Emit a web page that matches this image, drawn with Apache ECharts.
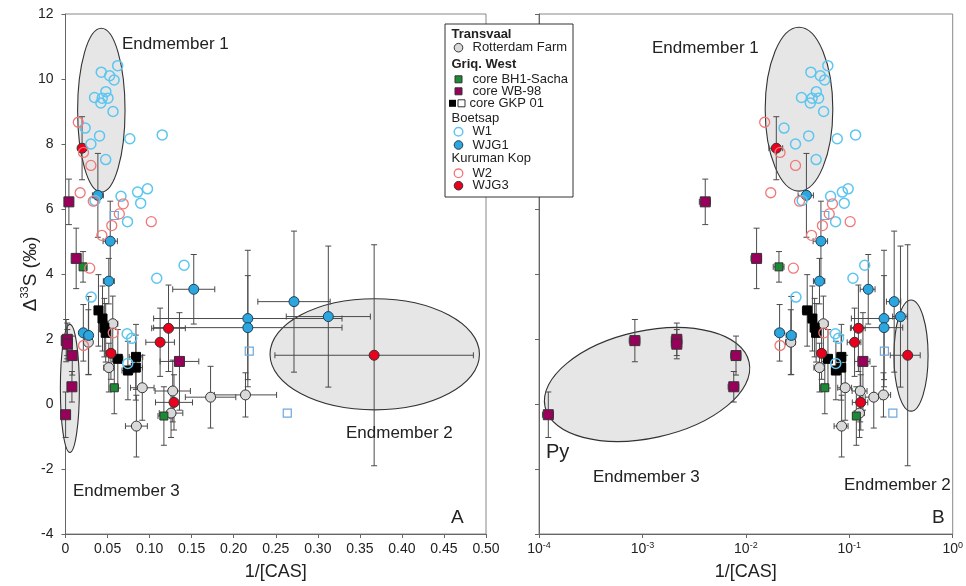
<!DOCTYPE html>
<html>
<head>
<meta charset="utf-8">
<script src="https://cdn.jsdelivr.net/npm/echarts@6/dist/echarts.min.js"></script>
<style>
    html, body { margin: 0; background: #fff; }
    #chart { width: 966px; height: 586px; }
</style>
</head>
<body>
<div id="chart"></div>
<script>
    // rows: [1/[CAS], D33S, x error, y error]
    const rotterdamFarm = [
        [0.0562, 2.47, 0.006, 0.85], [0.0272, 1.90, 0.003, 1.0], [0.0515, 1.12, 0.006, 0.75],
        [0.0913, 0.50, 0.014, 1.0], [0.1275, 0.40, 0.021, 0.95], [0.1725, 0.21, 0.030, 0.95],
        [0.2140, 0.28, 0.037, 0.68], [0.1255, -0.28, 0.014, 0.75], [0.0843, -0.68, 0.013, 0.95]
    ]
    const bh1Sacha = [
        [0.0209, 4.22, 0.0025, 0.47], [0.0580, 0.50, 0.005, 0.8], [0.1170, -0.37, 0.007, 0.9]
    ]
    const wb98 = [
        [0.00405, 6.22, 0.0005, 0.7], [0.0127, 4.48, 0.0015, 0.93], [0.000845, 1.95, 0.0001, 0.65],
        [0.00215, 1.99, 0.00025, 0.5], [0.00215, 1.84, 0.00025, 0.45], [0.00803, 1.49, 0.0009, 0.6],
        [0.00764, 0.53, 0.0009, 0.47], [0.000123, -0.33, 0.000015, 0.7], [0.1355, 1.31, 0.023, 1.5]
    ]
    const gkpFilled = [
        [0.0392, 2.88, 0.004, 1.1], [0.0440, 2.63, 0.004, 1.0], [0.0462, 2.35, 0.004, 0.9],
        [0.0478, 2.19, 0.004, 0.9], [0.0622, 1.39, 0.006, 0.9], [0.0838, 1.45, 0.008, 1.0],
        [0.0836, 1.12, 0.008, 1.0], [0.0742, 1.03, 0.007, 0.9]
    ]
    const gkpOpen = [[0.058, 5.80], [0.2185, 1.63], [0.2637, -0.28]]
    const w1 = [
        [0.062, 10.41], [0.0425, 10.21], [0.0525, 10.10], [0.0578, 9.97], [0.048, 9.61],
        [0.0345, 9.43], [0.0437, 9.41], [0.0505, 9.41], [0.042, 9.26], [0.0565, 9.00],
        [0.0234, 8.49], [0.0405, 8.25], [0.0765, 8.16], [0.115, 8.28], [0.0302, 8.00],
        [0.0478, 7.52], [0.035, 6.26], [0.066, 6.39], [0.0857, 6.52], [0.0975, 6.62],
        [0.0894, 6.18], [0.0737, 5.61], [0.141, 4.27], [0.1085, 3.87], [0.0305, 3.29],
        [0.0733, 2.16], [0.0787, 2.02], [0.074, 1.25]
    ]
    const wjg1 = [
        [0.0385, 6.42, 0.0065, 1.29], [0.0532, 5.01, 0.0085, 1.23], [0.0515, 3.78, 0.0065, 0.7],
        [0.1525, 3.53, 0.025, 1.07], [0.2717, 3.15, 0.043, 2.17], [0.3125, 2.69, 0.050, 2.17],
        [0.2168, 2.63, 0.112, 2.1], [0.2168, 2.35, 0.112, 1.6], [0.0212, 2.19, 0.002, 0.87],
        [0.0275, 2.11, 0.003, 1.2]
    ]
    const w2 = [
        [0.0152, 8.67], [0.0214, 7.74], [0.0302, 7.34], [0.0174, 6.50], [0.033, 6.24],
        [0.0687, 6.16], [0.064, 5.85], [0.055, 5.49], [0.102, 5.61], [0.0432, 5.19],
        [0.0288, 4.18], [0.0568, 2.19], [0.0214, 1.80]
    ]
    const wjg3 = [
        [0.0197, 7.87, 0.003, 0.97], [0.1225, 2.33, 0.020, 1.33], [0.1125, 1.90, 0.017, 1.05],
        [0.0540, 1.56, 0.005, 0.8], [0.1290, 0.05, 0.022, 0.85], [0.3670, 1.50, 0.118, 3.4]
    ]
    // ellipses: [x from, x to, y centre, y half height, rotation deg]
    const ellipsesA = [
        [0.0144, 0.0708, 9.04, 2.52, 0], [0.2432, 0.4922, 1.53, 1.71, 0], [-0.0061, 0.0165, 0.48, 1.97, 0]
    ]
    const ellipsesB = [
        [0.01538, 0.0693, 9.07, 2.52, 0], [0.2704, 0.578, 1.49, 1.71, 0], [0.0001084, 0.01135, 0.6, 1.65, 12.4]
    ]
    const yTicks = [-4, 12, 2]
    const xTicksA = [0, 0.5, 0.05]
    const xTicksB = [0.0001, 1]

    const font = 'Liberation Sans, Arial, sans-serif'
    const errColor = '#4a4a4a'

    function errorItem(params, api) {
        let x = api.value(0), y = api.value(1), xe = api.value(2), ye = api.value(3)
        let cap = 3
        let st = {stroke: errColor, lineWidth: 1}
        let kids = []
        if (ye > 0) {
            let t = api.coord([x, y + ye]), b = api.coord([x, y - ye])
            kids.push({type: 'line', shape: {x1: t[0], y1: t[1], x2: b[0], y2: b[1]}, style: st})
            kids.push({type: 'line', shape: {x1: t[0] - cap, y1: t[1], x2: t[0] + cap, y2: t[1]}, style: st})
            kids.push({type: 'line', shape: {x1: b[0] - cap, y1: b[1], x2: b[0] + cap, y2: b[1]}, style: st})
        }
        if (xe > 0) {
            let l = api.coord([x - xe, y]), r = api.coord([x + xe, y])
            kids.push({type: 'line', shape: {x1: l[0], y1: l[1], x2: r[0], y2: r[1]}, style: st})
            kids.push({type: 'line', shape: {x1: l[0], y1: l[1] - cap, x2: l[0], y2: l[1] + cap}, style: st})
            kids.push({type: 'line', shape: {x1: r[0], y1: r[1] - cap, x2: r[0], y2: r[1] + cap}, style: st})
        }
        return {type: 'group', children: kids}
    }

    function ellipseItem(params, api) {
        let a = api.coord([api.value(0), api.value(2)])
        let b = api.coord([api.value(1), api.value(2)])
        let t = api.coord([api.value(0), api.value(2) + api.value(3)])
        let cx = (a[0] + b[0]) / 2, cy = a[1]
        return {
            type: 'ellipse',
            shape: {cx: 0, cy: 0, rx: Math.abs(b[0] - a[0]) / 2, ry: Math.abs(a[1] - t[1])},
            x: cx, y: cy,
            rotation: api.value(4) * Math.PI / 180,
            style: {fill: '#e6e6e6', stroke: '#333', lineWidth: 1.1}
        }
    }

    let groups = [
        {data: rotterdamFarm, err: true, symbol: 'circle', size: 10, color: '#d9d9d9', border: '#333', bw: 1, z: 3},
        {data: bh1Sacha, err: true, symbol: 'rect', size: 8, color: '#1b8a35', border: '#333', bw: 1, z: 3},
        {data: wb98, err: true, symbol: 'rect', size: 10, color: '#99005c', border: '#333', bw: 1, z: 3},
        {data: gkpFilled, err: true, symbol: 'rect', size: 9, color: '#000', border: '#000', bw: 1, z: 3},
        {data: wjg1, err: true, symbol: 'circle', size: 10, color: '#2ca6de', border: '#1f3f55', bw: 1, z: 4},
        {data: wjg3, err: true, symbol: 'circle', size: 10, color: '#e8001c', border: '#333', bw: 1, z: 4},
        {data: gkpOpen, err: false, symbol: 'rect', size: 8, color: 'rgba(0,0,0,0)', border: '#6fa8dc', bw: 1.2, z: 5},
        {data: w1, err: false, symbol: 'circle', size: 10, color: 'rgba(0,0,0,0)', border: '#5cc6f0', bw: 1.5, z: 5},
        {data: w2, err: false, symbol: 'circle', size: 10, color: 'rgba(0,0,0,0)', border: '#f07878', bw: 1.3, z: 5}
    ]

    let series = []
    ;[ellipsesA, ellipsesB].forEach(function (ell, p) {
        series.push({
            type: 'custom', xAxisIndex: p, yAxisIndex: p, clip: false, z: 1,
            renderItem: ellipseItem, encode: {x: [0, 1], y: 2}, data: ell, silent: true
        })
        groups.forEach(function (g) {
            if (g.err) {
                series.push({
                    type: 'custom', xAxisIndex: p, yAxisIndex: p, clip: false, z: 2,
                    renderItem: errorItem, encode: {x: 0, y: 1}, data: g.data, silent: true
                })
            }
            series.push({
                type: 'scatter', xAxisIndex: p, yAxisIndex: p, z: g.z,
                symbol: g.symbol, symbolSize: g.size,
                itemStyle: {color: g.color, borderColor: g.border, borderWidth: g.bw, opacity: 1},
                data: g.data.map(function (r) { return [r[0], r[1]] })
            })
        })
    })

    let axisLineStyle = {lineStyle: {color: '#666', width: 1}}
    let tickStyle = {show: true, inside: false, length: 4, lineStyle: {color: '#666'}}
    let labelBase = {color: '#222', fontSize: 14, fontFamily: font}

    let yAxisCommon = {
        type: 'value', min: yTicks[0], max: yTicks[1], interval: yTicks[2],
        axisLine: {show: true, ...axisLineStyle}, axisTick: tickStyle, splitLine: {show: false}
    }

    let option = {
        animation: false,
        grid: [
            {left: 65.5, right: 480, top: 14, bottom: 51, show: true, borderColor: '#888', borderWidth: 1},
            {left: 539, right: 7, top: 14, bottom: 51, show: true, borderColor: '#888', borderWidth: 1}
        ],
        xAxis: [
            {
                gridIndex: 0, type: 'value', min: xTicksA[0], max: xTicksA[1], interval: xTicksA[2],
                axisLine: {show: true, onZero: false, ...axisLineStyle}, axisTick: tickStyle, splitLine: {show: false},
                axisLabel: {...labelBase, margin: 8, formatter: function (v) { return v === 0 ? '0' : v.toFixed(2) }},
                name: '1/[CAS]', nameLocation: 'middle', nameGap: 29, nameMoveOverlap: false,
                nameTextStyle: {color: '#222', fontSize: 18, fontFamily: font}
            },
            {
                gridIndex: 1, type: 'log', logBase: 10, min: xTicksB[0], max: xTicksB[1],
                axisLine: {show: true, onZero: false, ...axisLineStyle}, axisTick: tickStyle, splitLine: {show: false},
                minorTick: {show: false},
                axisLabel: {
                    ...labelBase, margin: 7, lineHeight: 16,
                    formatter: function (v) { return '10{sup|' + Math.round(Math.log10(v)) + '}' },
                    rich: {sup: {fontSize: 9, verticalAlign: 'top', lineHeight: 10, color: '#222', fontFamily: font}}
                },
                name: '1/[CAS]', nameLocation: 'middle', nameGap: 29, nameMoveOverlap: false,
                nameTextStyle: {color: '#222', fontSize: 18, fontFamily: font}
            }
        ],
        yAxis: [
            {
                gridIndex: 0, ...yAxisCommon,
                axisLabel: {...labelBase, margin: 12},
                name: 'Δ{sup|33}S (‰)', nameLocation: 'middle', nameGap: 24, nameRotate: 90, nameMoveOverlap: false,
                nameTextStyle: {
                    color: '#222', fontSize: 19, fontFamily: font, lineHeight: 22,
                    rich: {sup: {fontSize: 11, verticalAlign: 'top', lineHeight: 11, color: '#222', fontFamily: font}}
                }
            },
            {gridIndex: 1, ...yAxisCommon, axisLabel: {show: false}}
        ],
        series: series,
        graphic: []
    }

    // annotations
    let notes = [
        ['Endmember 1', 122, 44, 17], ['Endmember 2', 346, 433, 17], ['Endmember 3', 73, 491, 17], ['A', 451, 518, 19],
        ['Endmember 1', 652, 48, 17], ['Endmember 3', 593, 477, 17], ['Endmember 2', 844, 485, 17], ['Py', 546, 452, 20],
        ['B', 932, 518, 19]
    ]
    notes.forEach(function (n) {
        option.graphic.push({
            type: 'text', x: n[1], y: n[2], z: 20,
            style: {text: n[0], fill: '#222', font: n[3] + 'px ' + font, verticalAlign: 'middle'}
        })
    })

    // legend box
    let lg = {x: 445, y: 24, w: 128, h: 173}
    let legendRows = [
        {text: 'Transvaal', y: 34, bold: true},
        {text: 'Rotterdam Farm', y: 47.7, g: 0},
        {text: 'Griq. West', y: 64, bold: true},
        {text: 'core BH1-Sacha', y: 79.3, g: 1},
        {text: 'core WB-98', y: 91.3, g: 2},
        {text: 'core GKP 01', y: 103.3, g: 3},
        {text: 'Boetsap', y: 118.7},
        {text: 'W1', y: 131.7, g: 7},
        {text: 'WJG1', y: 145, g: 4},
        {text: 'Kuruman Kop', y: 158.3},
        {text: 'W2', y: 173.3, g: 8},
        {text: 'WJG3', y: 185.7, g: 5}
    ]
    option.graphic.push({
        type: 'rect', z: 30, shape: {x: lg.x, y: lg.y, width: lg.w, height: lg.h},
        style: {fill: '#fff', stroke: '#333', lineWidth: 1}
    })
    legendRows.forEach(function (r) {
        let tx = r.g === undefined ? 451.5 : 472.5
        if (r.g === 3) tx = 469.5
        option.graphic.push({
            type: 'text', x: tx, y: r.y, z: 31,
            style: {text: r.text, fill: '#222', font: (r.bold ? 'bold ' : '') + '13px ' + font, verticalAlign: 'middle'}
        })
        if (r.g === undefined) return
        let g = groups[r.g]
        let fill = g.color === 'rgba(0,0,0,0)' ? '#fff' : g.color
        let sst = {fill: fill, stroke: g.border, lineWidth: g.bw}
        if (r.g === 3) {
            option.graphic.push({type: 'rect', z: 31, shape: {x: 449, y: r.y - 3.5, width: 7, height: 7}, style: {fill: '#000'}})
            option.graphic.push({type: 'rect', z: 31, shape: {x: 458, y: r.y - 3.5, width: 7, height: 7}, style: {fill: '#fff', stroke: '#333', lineWidth: 1}})
        } else if (g.symbol === 'circle') {
            option.graphic.push({type: 'circle', z: 31, shape: {cx: 458.5, cy: r.y, r: 4.3}, style: sst})
        } else {
            option.graphic.push({type: 'rect', z: 31, shape: {x: 455, y: r.y - 3.5, width: 7, height: 7}, style: sst})
        }
    })

    let myChart = echarts.init(document.getElementById('chart'))
    myChart.setOption(option)
</script>
</body>
</html>
